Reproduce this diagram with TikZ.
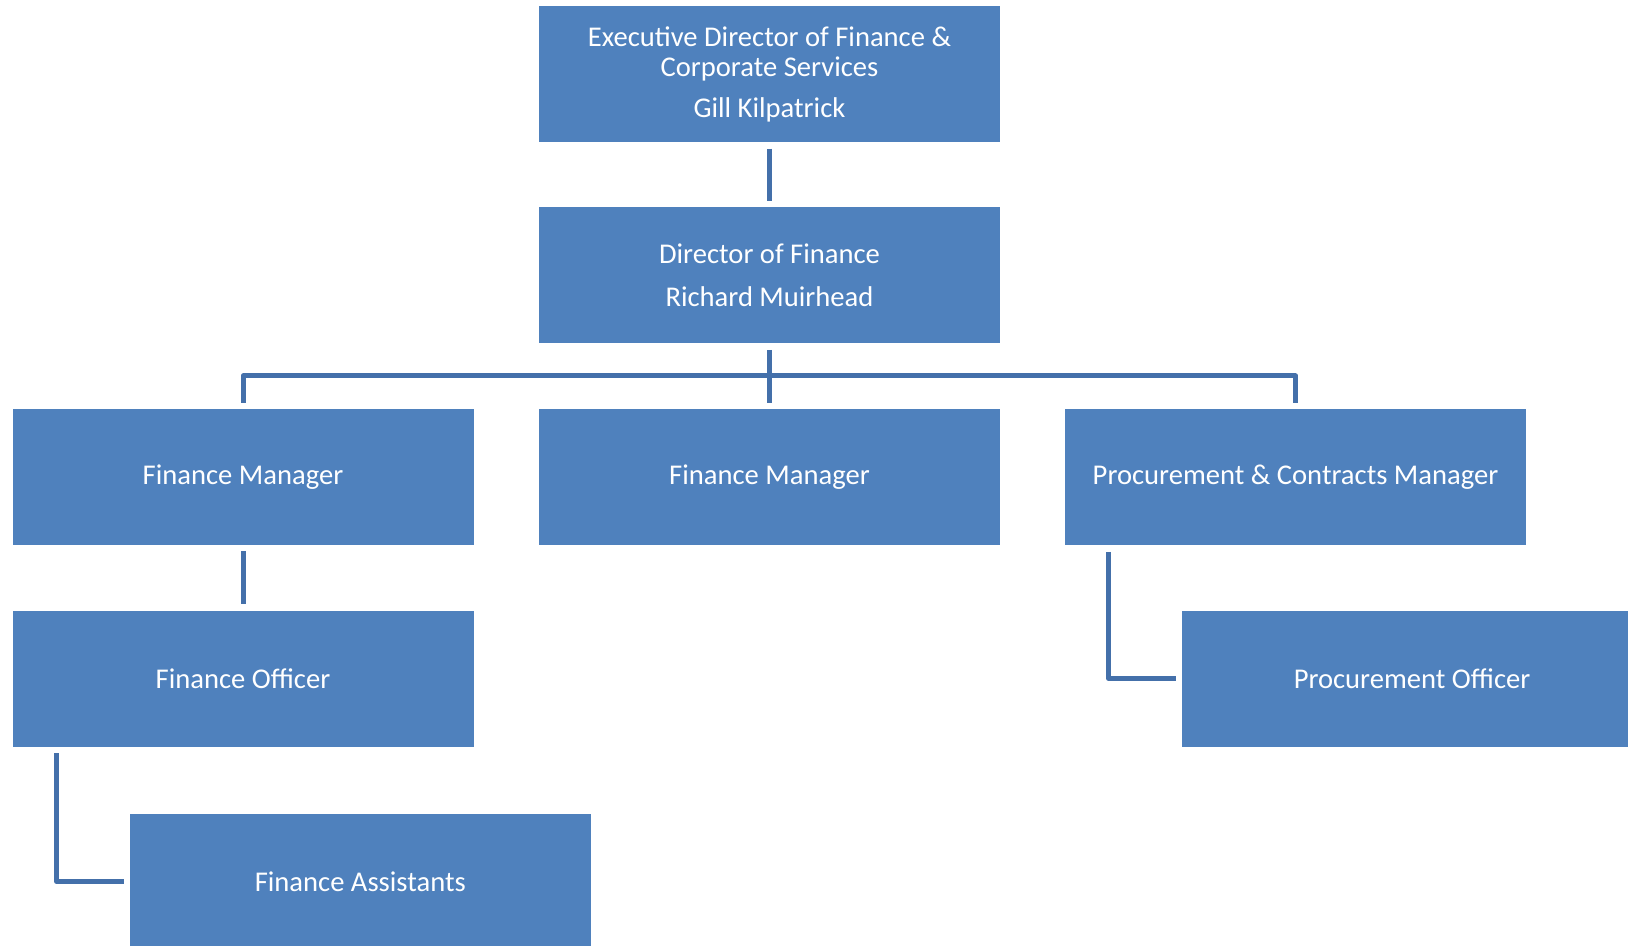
\documentclass[tikz,border=0pt]{standalone}
\usepackage{fontspec}
\setmainfont{Carlito}
\definecolor{boxblue}{HTML}{4F81BD}
\definecolor{lineblue}{HTML}{4470AA}

\tikzset{
  post/.style={fill=boxblue, text=white, minimum width=230.5pt, minimum height=68pt,
    inner sep=0pt, align=center, font=\fontsize{14.3}{15}\selectfont},
  link/.style={draw=lineblue, line width=2.5pt, line join=round}
}

\begin{document}
\begin{tikzpicture}[x=0.5pt,y=-0.5pt]
      \useasboundingbox (0,0) rectangle (1628,946);
      \clip (0,0) rectangle (1628,946);

      % posts
      \node[post] (exec) at (769.5,74.3) {Executive Director of Finance \&\\Corporate Services\\[5.7pt]Gill Kilpatrick};
      \node[post] (dof) at (769.5,275.5) {Director of Finance\\[6.5pt]Richard Muirhead};
      \node[post] (fm1) at (243,477) {Finance Manager};
      \node[post] (fm2) at (769.5,477) {Finance Manager};
      \node[post] (pcm) at (1295.5,477) {Procurement \& Contracts Manager};
      \node[post] (fo) at (243,678.5) {Finance Officer};
      \node[post] (po) at (1412,678.5) {Procurement Officer};
      \node[post] (fa) at (360.3,881.5) {Finance Assistants};

      % links
      \coordinate (bar) at (769.5,376);
      \draw[link, shorten <=3pt, shorten >=3pt] (exec) -- (dof);
      \draw[link, shorten <=3pt, shorten >=3pt] (dof) -- (fm2);
      \draw[link] ([yshift=3pt]fm1.north) -- (fm1.north |- bar) -- (pcm.north |- bar) -- ([yshift=3pt]pcm.north);
      \draw[link, shorten <=3pt, shorten >=3pt] (fm1) -- (fo);
      \draw[link] ([xshift=22.25pt,yshift=-3.2pt]fo.south west) |- ([xshift=-2.6pt]fa.west);
      \draw[link] ([xshift=22pt,yshift=-3.2pt]pcm.south west) |- ([xshift=-2.8pt]po.west);
    \end{tikzpicture}
\end{document}
